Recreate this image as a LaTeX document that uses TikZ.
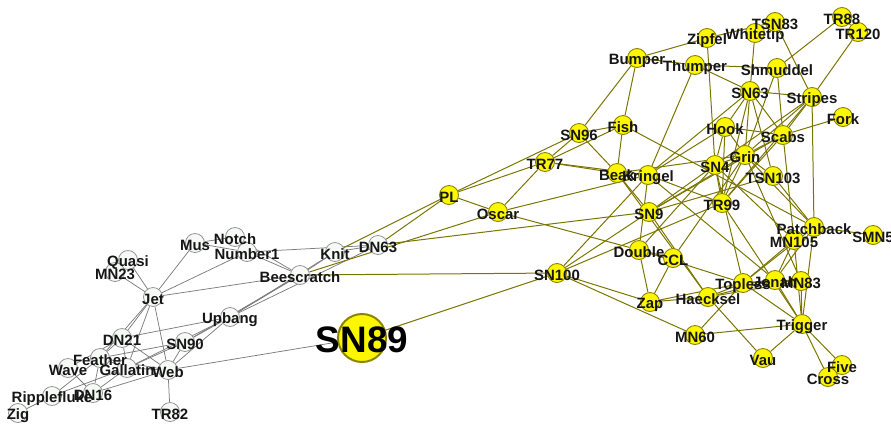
\documentclass[tikz,border=0pt]{standalone}
\usepackage{fontspec}
\setmainfont{Liberation Sans}
\usetikzlibrary{backgrounds}

\definecolor{linkolive}{RGB}{124,118,0}
\definecolor{linkgray}{RGB}{125,125,125}
\definecolor{yfill}{RGB}{252,246,0}
\definecolor{yborder}{RGB}{140,132,0}
\definecolor{wfill}{RGB}{246,249,246}
\definecolor{wborder}{RGB}{150,150,150}
\definecolor{labeltext}{RGB}{22,22,22}

\tikzset{
  ynode/.style={circle, fill=yfill, draw=yborder, line width=0.9bp, minimum size=19bp, inner sep=0pt},
  wnode/.style={circle, fill=wfill, draw=wborder, line width=0.8bp, minimum size=19bp, inner sep=0pt},
  bignode/.style={circle, fill=yfill, draw=yborder, line width=2bp, minimum size=48bp, inner sep=0pt},
  lbl/.style={inner sep=0pt, text=labeltext, font=\bfseries\fontsize{15}{15}\selectfont},
  biglbl/.style={inner sep=0pt, text=black, font=\bfseries\fontsize{37}{37}\selectfont},
  olink/.style={draw=linkolive, line width=1bp},
  glink/.style={draw=linkgray, line width=0.75bp},
}

\begin{document}
\begin{tikzpicture}[x=1bp, y=-1bp]
\useasboundingbox (0,0) rectangle (891,426);

% community of light nodes
\foreach \n/\px/\py in {
  Notch/235/237, Mus/195/243, Number1/247/252, Quasi/128/260, MN23/115/272,
  Jet/153/297, Beescratch/300/275, Knit/335/252, DN63/378/245, Upbang/230/317,
  DN21/122/338, SN90/185/342, Feather/100/358, Wave/68/368, Gallatin/127/368,
  Web/168/370, DN16/93/393, Ripplefluke/52/396, Zig/18/413, TR82/170/412}
  \node[wnode] (\n) at (\px,\py) {};

% community of yellow nodes
\foreach \n/\px/\py in {
  PL/449/195, Oscar/498/212, TR77/545/162, SN96/579/133, Bumper/637/58,
  Fish/623/125, Beak/617/173, Kringel/648/175, SN9/649/212, SN100/557/273,
  Double/639/250, CCL/673/258, Zap/650/302, Haecksel/708/297, MN60/695/335,
  Zipfel/707/38, Whitetip/755/33, TSN83/775/22, TR88/842/17, TR120/858/32,
  Thumper/695/65, Shmuddel/777/68, SN63/750/91, Stripes/812/97, Fork/843/117,
  Hook/725/127, Scabs/783/135, Grin/745/155, SN4/715/165, TSN103/773/176,
  TR99/722/203, Patchback/814/227, SMN5/873/235, MN105/794/240,
  Topless/743/283, Jonah/775/280, MN83/801/281, Trigger/802/324,
  Vau/763/358, Five/842/365, Cross/828/377}
  \node[ynode] (\n) at (\px,\py) {};

\node[bignode] (SN89) at (362,338) {};

\begin{scope}[on background layer]
  % links inside the light community and Web--SN89
  \foreach \a/\b in {
    Feather/DN16, Feather/DN21, Gallatin/DN16, Gallatin/DN21, Gallatin/Feather,
    Jet/Beescratch, Jet/DN21, Jet/Feather, Jet/Gallatin, Knit/Beescratch,
    Knit/DN63, MN23/Jet, Mus/Jet, Notch/Beescratch, Notch/Mus,
    Number1/Beescratch, Number1/DN63, Number1/Jet, Number1/Mus, Number1/Notch,
    Quasi/Jet, Ripplefluke/Feather, Ripplefluke/Gallatin, SN90/Beescratch,
    SN90/Feather, SN90/Gallatin, Upbang/Beescratch, Upbang/DN21, Upbang/DN63,
    Upbang/Gallatin, Upbang/Knit, Upbang/SN90, Wave/DN16, Wave/DN21,
    Web/DN16, Web/DN21, Web/Feather, Web/Gallatin, Web/Jet, Web/SN89,
    Web/SN90, Web/TR82, Web/Upbang, Zig/Ripplefluke}
    \draw[glink] (\a) -- (\b);
  % links of the yellow community
  \foreach \a/\b in {
    Double/CCL, Fish/Beak, Fish/Bumper, Grin/Beak, Grin/CCL, Haecksel/Beak,
    Hook/Grin, Jonah/Haecksel, Kringel/Double, Kringel/Hook, Kringel/Jonah,
    MN105/Jonah, MN83/Grin, MN83/Haecksel, MN83/Jonah, Oscar/Beescratch,
    Oscar/Double, Oscar/Kringel, Patchback/Fish, Patchback/Grin,
    Patchback/Jonah, PL/DN63, PL/Knit, PL/Oscar, Scabs/Fork, Scabs/Grin,
    Scabs/Hook, Scabs/MN105, Shmuddel/Grin, Shmuddel/Scabs, SMN5/Patchback,
    SN100/Beescratch, SN100/Kringel, SN100/MN60, SN4/Double, SN4/Grin,
    SN4/Hook, SN4/MN105, SN63/Grin, SN63/Hook, SN63/Kringel, SN63/Scabs,
    SN89/SN100, SN9/Beak, SN9/DN63, SN9/Grin, SN9/Haecksel, SN9/Scabs,
    SN9/SN100, SN9/SN4, SN96/Beak, SN96/Bumper, SN96/Fish, SN96/PL,
    Stripes/Grin, Stripes/Patchback, Stripes/Scabs, Stripes/SN4,
    Stripes/SN63, Thumper/Bumper, Thumper/Kringel, Thumper/Shmuddel,
    Thumper/SN63, Topless/Double, Topless/Haecksel, Topless/Jonah,
    Topless/MN105, Topless/MN60, Topless/MN83, Topless/Patchback,
    Topless/SN4, TR120/Stripes, TR77/Beak, TR77/Fish, TR77/Kringel,
    TR77/Oscar, TR77/PL, TR77/SN96, TR88/Shmuddel, TR88/TR120, TR99/Grin,
    TR99/Hook, TR99/Kringel, TR99/Scabs, TR99/SN100, TR99/SN4, TR99/SN63,
    TR99/Stripes, Trigger/Cross, Trigger/Five, Trigger/Jonah, Trigger/MN105,
    Trigger/MN60, Trigger/MN83, Trigger/Patchback, Trigger/Topless,
    Trigger/TR99, TSN103/Grin, TSN103/Patchback, TSN103/SN63, TSN103/SN9,
    TSN83/Stripes, Vau/Haecksel, Vau/Trigger, Whitetip/SN63, Zap/CCL,
    Zap/Double, Zap/Haecksel, Zap/SN100, Zap/Topless, Zipfel/Bumper,
    Zipfel/SN4, Zipfel/TSN83}
    \draw[olink] (\a) -- (\b);
\end{scope}

% names, set over all circles
\foreach \n in {
  Notch, Mus, Number1, Quasi, MN23, Jet, Beescratch, Knit, DN63, Upbang,
  DN21, SN90, Feather, Wave, Gallatin, Web, DN16, Ripplefluke, Zig, TR82,
  PL, Oscar, TR77, SN96, Bumper, Fish, Beak, Kringel, SN9, SN100, Double,
  CCL, Zap, Haecksel, MN60, Zipfel, Whitetip, TSN83, TR88, TR120, Thumper,
  Shmuddel, SN63, Stripes, Fork, Hook, Scabs, Grin, SN4, TSN103, TR99,
  Patchback, SMN5, MN105, Topless, Jonah, MN83, Trigger, Vau, Five, Cross}
  \node[lbl] (\n-name) at ([yshift=-2.5bp]\n.center) {\n};

\node[biglbl] (SN89-name) at ([yshift=-2bp]SN89.center) {SN89};
\end{tikzpicture}
\end{document}
